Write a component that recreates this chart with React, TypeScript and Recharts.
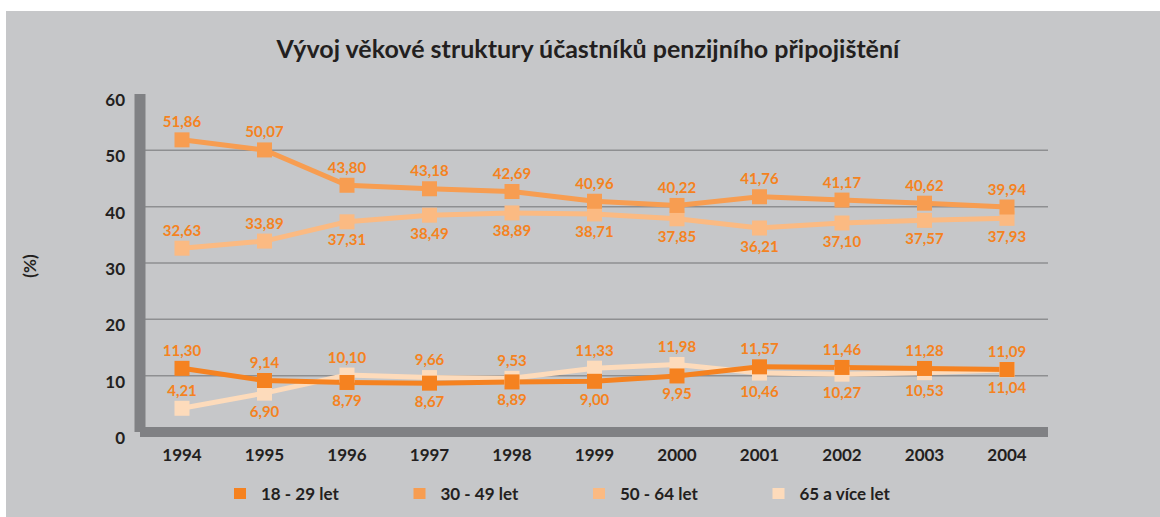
import React from 'react';
import { LineChart, Line, XAxis, YAxis, CartesianGrid, LabelList } from 'recharts';

const years = ['1994', '1995', '1996', '1997', '1998', '1999', '2000', '2001', '2002', '2003', '2004'];
const s18_29 = [11.3, 9.14, 8.79, 8.67, 8.89, 9.0, 9.95, 11.57, 11.46, 11.28, 11.09];
const s30_49 = [51.86, 50.07, 43.8, 43.18, 42.69, 40.96, 40.22, 41.76, 41.17, 40.62, 39.94];
const s50_64 = [32.63, 33.89, 37.31, 38.49, 38.89, 38.71, 37.85, 36.21, 37.1, 37.57, 37.93];
const s65 = [4.21, 6.9, 10.1, 9.66, 9.53, 11.33, 11.98, 10.46, 10.27, 10.53, 11.04];
const yTicks = [0, 10, 20, 30, 40, 50, 60];
const gridValues = [10, 20, 30, 40, 50];

const title = 'Vývoj věkové struktury účastníků penzijního připojištění';
const yLabel = '(%)';

const data = years.map((year, i) => ({ year, a: s18_29[i], b: s30_49[i], c: s50_64[i], d: s65[i] }));

const FONT = 'Lato, "Open Sans", sans-serif';
const BG = '#C6C7C9';
const AXIS = '#808184';
const GRID = '#8E8F91';
const TEXT = '#231F20';
const LABEL = '#F58220';

type S = { key: 'a' | 'b' | 'c' | 'd'; name: string; color: string; partner: 'a' | 'b' | 'c' | 'd' };
const legendOrder: S[] = [
  { key: 'a', name: '18 - 29 let', color: '#F58220', partner: 'd' },
  { key: 'b', name: '30 - 49 let', color: '#F79D51', partner: 'c' },
  { key: 'c', name: '50 - 64 let', color: '#FBBA82', partner: 'b' },
  { key: 'd', name: '65 a více let', color: '#FDDBBB', partner: 'a' },
];
const drawOrder = [...legendOrder].reverse();

const fmt = (v: number) => v.toFixed(2).replace('.', ',');

const YTick = (p: any) => (
  <text x={p.x - 15} y={p.y + 12} textAnchor="end" fontSize={17} fontWeight={700} fill={TEXT} fontFamily={FONT}>
    {p.payload.value}
  </text>
);
const XTick = (p: any) => (
  <text x={p.x} y={p.y + 29} textAnchor="middle" fontSize={17} fontWeight={700} fill={TEXT} fontFamily={FONT}>
    {p.payload.value}
  </text>
);

const makeLabel = (s: S) => (p: any) => {
  const i = p.index;
  const v = data[i][s.key];
  const other = data[i][s.partner];
  const above = v >= other || other - v > 7;
  const y = above ? p.y - 12.5 : p.y + 23.5;
  return (
    <text key={`l-${s.key}-${i}`} x={p.x} y={y} textAnchor="middle" fontSize={15} fontWeight={700} fill={LABEL} fontFamily={FONT}>
      {fmt(v)}
    </text>
  );
};

const makeDot = (color: string) => (p: any) => (
  <rect key={`d-${p.index}`} x={p.cx - 7.5} y={p.cy - 7.5} width={15} height={15} fill={color} />
);

const YLabel = (p: any) => {
  const vb = p.viewBox || {};
  const cy = (vb.y ?? 83) + (vb.height ?? 338) / 2 + 3;
  return (
    <text
      x={23}
      y={cy}
      transform={`rotate(-90 23 ${cy})`}
      textAnchor="middle"
      dominantBaseline="central"
      fontSize={17}
      fontWeight={700}
      fill={TEXT}
      fontFamily={FONT}
    >
      {yLabel}
    </text>
  );
};

export default function App() {
  return (
    <div style={{ position: 'absolute', left: 6, top: 11, width: 1154, height: 506, background: BG }}>
      <LineChart width={1154} height={506} data={data} margin={{ top: 83, right: 112, left: 0, bottom: 0 }}>
        <CartesianGrid horizontal vertical={false} stroke={GRID} strokeWidth={1.5} horizontalValues={gridValues} />
        <XAxis
          dataKey="year"
          height={85}
          padding={{ left: 42, right: 41 }}
          axisLine={{ stroke: AXIS, strokeWidth: 10 }}
          tickLine={false}
          tickSize={0}
          tickMargin={0}
          interval={0}
          tick={<XTick />}
        />
        <YAxis
          width={134}
          domain={[0, 60]}
          ticks={yTicks}
          type="number"
          axisLine={{ stroke: AXIS, strokeWidth: 11 }}
          tickLine={false}
          tickSize={0}
          tickMargin={0}
          tick={<YTick />}
          label={<YLabel />}
        />
        {drawOrder.map((s) => (
          <Line
            key={s.key}
            dataKey={s.key}
            name={s.name}
            stroke={s.color}
            strokeWidth={5}
            dot={makeDot(s.color)}
            activeDot={false}
            isAnimationActive={false}
          >
            <LabelList dataKey={s.key} content={makeLabel(s)} />
          </Line>
        ))}
      </LineChart>
      <svg width={1154} height={506} style={{ position: 'absolute', left: 0, top: 0, pointerEvents: 'none' }}>
        <text x={582} y={47} textAnchor="middle" fontSize={25} fontWeight={700} fill={TEXT} fontFamily={FONT}>
          {title}
        </text>
        {legendOrder.map((s, i) => {
          const x0 = 228 + i * 179.5;
          return (
            <g key={s.key}>
              <rect x={x0} y={477} width={12} height={11} fill={s.color} />
              <text x={x0 + 27} y={489} fontSize={17} fontWeight={700} fill={TEXT} fontFamily={FONT}>
                {s.name}
              </text>
            </g>
          );
        })}
      </svg>
    </div>
  );
}
